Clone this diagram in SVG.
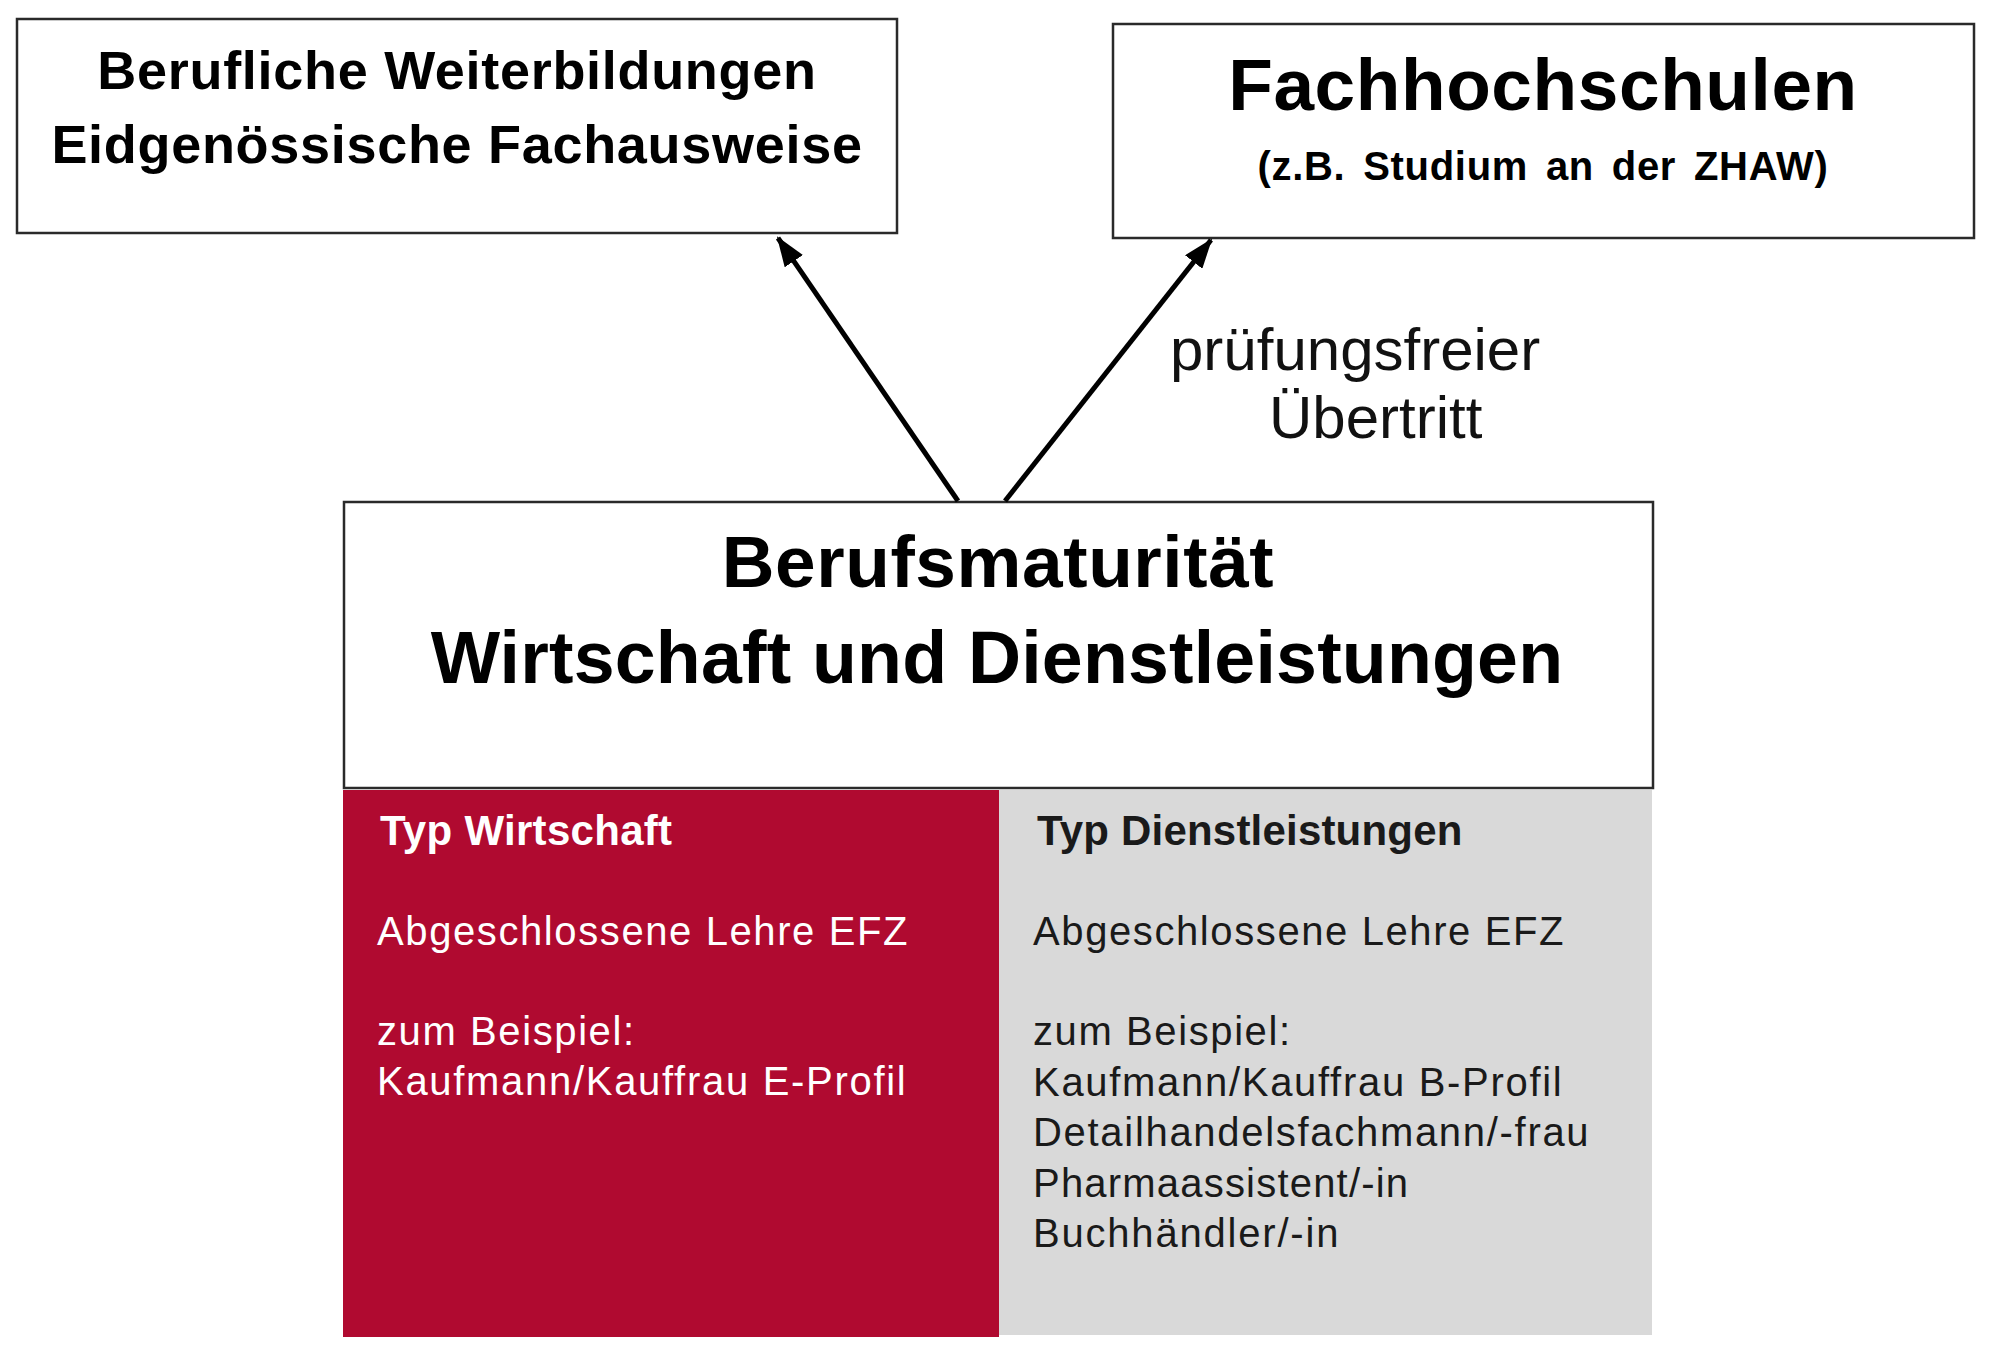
<svg xmlns="http://www.w3.org/2000/svg" width="2000" height="1354" viewBox="0 0 2000 1354">
<style>
.box{fill:#fff;stroke:#2a2a2a;stroke-width:2.5}
.t{font-family:"Liberation Sans",Arial,sans-serif}
.b{font-weight:bold;fill:#000}
.w{fill:#fff}
.d{fill:#1a1a1a}
.conn{stroke:#000;stroke-width:5;fill:none}
</style>
<defs>
<marker id="ah" markerUnits="userSpaceOnUse" markerWidth="30" markerHeight="22" refX="28" refY="11" orient="auto">
<path d="M0,0 L30,11 L0,22 Z" fill="#000"/>
</marker>
</defs>
<rect width="2000" height="1354" fill="#fff"/>
<g id="weiterbildung">
<rect class="box" x="17" y="19" width="880" height="214"/>
<text class="t b" x="457" y="89" font-size="54" text-anchor="middle" letter-spacing="0.7">Berufliche Weiterbildungen</text>
<text class="t b" x="457" y="163" font-size="54" text-anchor="middle" letter-spacing="0.7">Eidgenössische Fachausweise</text>
</g>
<g id="fachhochschulen">
<rect class="box" x="1113" y="24" width="861" height="214"/>
<text class="t b" x="1543" y="110" font-size="73" text-anchor="middle" letter-spacing="0.6">Fachhochschulen</text>
<text class="t b" x="1543" y="180" font-size="40" text-anchor="middle" word-spacing="6" letter-spacing="0.7">(z.B. Studium  an der ZHAW)</text>
</g>
<g id="berufsmaturitaet">
<rect class="box" x="344" y="502" width="1309" height="286"/>
<text class="t b" x="998" y="587" font-size="73" text-anchor="middle" letter-spacing="0.6">Berufsmaturität</text>
<text class="t b" x="997" y="683" font-size="73.5" text-anchor="middle" letter-spacing="0.2">Wirtschaft und Dienstleistungen</text>
</g>
<g id="typ-wirtschaft">
<rect x="343" y="790" width="656" height="547" fill="#B00A30"/>
<text class="t w" x="380" y="845" font-size="42" font-weight="bold" letter-spacing="0.3">Typ Wirtschaft</text>
<text class="t w" x="377" y="945" font-size="40" letter-spacing="1.6">Abgeschlossene Lehre EFZ</text>
<text class="t w" x="377" y="1045" font-size="40" letter-spacing="1.6">zum Beispiel:</text>
<text class="t w" x="377" y="1095" font-size="40" letter-spacing="1.7">Kaufmann/Kauffrau E-Profil</text>
</g>
<g id="typ-dienstleistungen">
<rect x="999" y="790" width="653" height="545" fill="#D9D9D9"/>
<text class="t d" x="1037" y="845" font-size="42" font-weight="bold" letter-spacing="0.2">Typ Dienstleistungen</text>
<text class="t d" x="1033" y="945" font-size="40" letter-spacing="1.6">Abgeschlossene Lehre EFZ</text>
<text class="t d" x="1033" y="1045" font-size="40" letter-spacing="1.6">zum Beispiel:</text>
<text class="t d" x="1033" y="1096" font-size="40" letter-spacing="1.7">Kaufmann/Kauffrau B-Profil</text>
<text class="t d" x="1033" y="1146" font-size="40" letter-spacing="1.7">Detailhandelsfachmann/-frau</text>
<text class="t d" x="1033" y="1197" font-size="40" letter-spacing="1.2">Pharmaassistent/-in</text>
<text class="t d" x="1033" y="1247" font-size="40" letter-spacing="1.8">Buchhändler/-in</text>
</g>
<g id="connectors">
<line class="conn" x1="958" y1="501" x2="778" y2="238" marker-end="url(#ah)"/>
<line class="conn" x1="1005" y1="501" x2="1211" y2="240" marker-end="url(#ah)"/>
<text class="t" x="1170" y="370" font-size="60" fill="#111">prüfungsfreier</text>
<text class="t" x="1269" y="438" font-size="60" fill="#111">Übertritt</text>
</g>
</svg>
